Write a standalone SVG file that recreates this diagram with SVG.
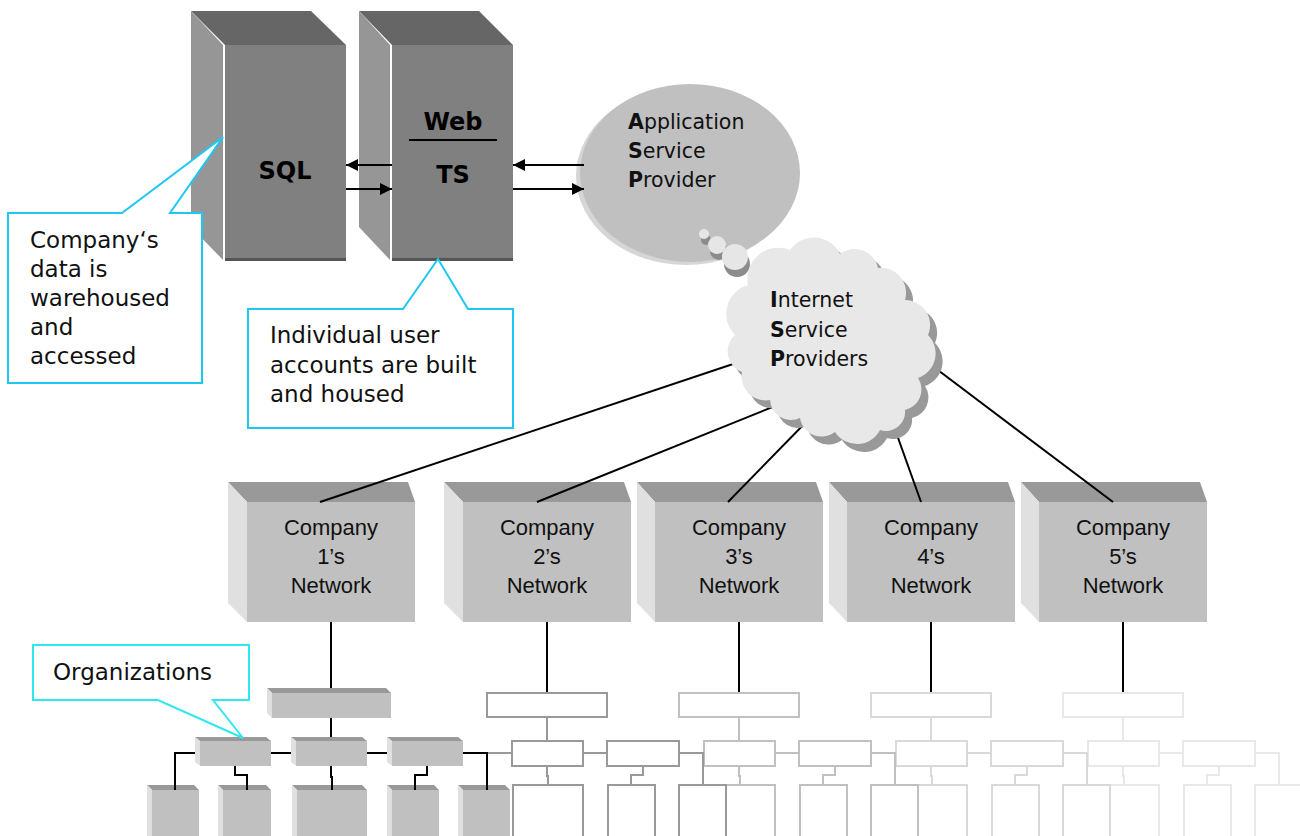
<svg xmlns="http://www.w3.org/2000/svg" width="1300" height="836" viewBox="0 0 1300 836">
<style>
.st{fill:#666}.ss{fill:#969696}.sf{fill:#808080}
.ct{fill:#999}.cs{fill:#e0e0e0}.cf{fill:#c0c0c0}
.callout{fill:#fff;stroke:#1cc8f2;stroke-width:2}
.org{fill:#fff;stroke:#2ee8f0;stroke-width:2}
.lbl{font-family:"DejaVu Sans",Verdana,sans-serif;font-size:23px;fill:#111}
.sp{font-family:"DejaVu Sans",Verdana,sans-serif;font-size:20.5px;fill:#111}
.srv{font-family:"DejaVu Sans",Verdana,sans-serif;font-size:24px;font-weight:bold;fill:#000;text-anchor:middle}
.co{font-family:"Liberation Sans",Arial,sans-serif;font-size:22px;fill:#111;text-anchor:middle}
.link{stroke:#000;stroke-width:2;fill:none}
.b{font-weight:bold}
.t2{stroke:#999}.t3{stroke:#c0c0c0}.t4{stroke:#d9d9d9}.t5{stroke:#e8e8e8}
.tb{fill:#fff;stroke-width:2}
.tl{fill:none;stroke-width:2}
</style>
<defs>
<marker id="ah" viewBox="0 0 10 10" refX="10" refY="5" markerWidth="14" markerHeight="12" markerUnits="userSpaceOnUse" orient="auto">
<path d="M0,0 L10,5 L0,10 Z" fill="#000"/>
</marker>
<g id="tree">
<rect class="tb" x="-60" y="693" width="120" height="24"/>
<path class="tl" d="M0,717 V741 M-60,753 H-35 M36,753 H60 M132,753 H156 V785 M0,766 V776 H1 V785 M96,766 V775 H84 V785"/>
<rect class="tb" x="-35" y="741" width="71" height="25"/>
<rect class="tb" x="60" y="741" width="72" height="25"/>
<rect class="tb" x="-34" y="785" width="70" height="70"/>
<rect class="tb" x="61" y="785" width="47" height="70"/>
<rect class="tb" x="132" y="785" width="47" height="70"/>
</g>
</defs>
<rect width="1300" height="836" fill="#fff"/>

<g id="sql-server">
<polygon class="st" points="191,11 311,11 346,45 225,45"/>
<polygon class="ss" points="191,11 223,45 223,260 191,227"/>
<rect class="sf" x="225" y="45" width="121" height="215"/>
<rect x="225" y="258" width="121" height="3" fill="#555"/>
<text class="srv" x="285" y="179">SQL</text>
</g>
<g id="web-ts-server">
<polygon class="st" points="359,11 479,11 513,45 392,45"/>
<polygon class="ss" points="359,11 390,45 390,260 359,227"/>
<rect class="sf" x="392" y="45" width="121" height="215"/>
<rect x="392" y="258" width="121" height="3" fill="#555"/>
<text class="srv" x="453" y="130">Web</text>
<line x1="409" y1="140" x2="497" y2="140" stroke="#000" stroke-width="2"/>
<text class="srv" x="453" y="183">TS</text>
</g>

<g id="asp">
<ellipse cx="686" cy="176" rx="110" ry="89" fill="#d6d6d6"/>
<ellipse cx="690" cy="173" rx="110" ry="89" fill="#c0c0c0"/>
<text class="sp" x="628" y="129"><tspan class="b">A</tspan>pplication</text>
<text class="sp" x="628" y="158"><tspan class="b">S</tspan>ervice</text>
<text class="sp" x="628" y="187"><tspan class="b">P</tspan>rovider</text>
</g>

<g id="company-1"><polygon class="ct" points="228,482 408,482 415,502 247,502"/><polygon class="cs" points="228,482 247,502 247,622 228,603"/><rect class="cf" x="247" y="502" width="168" height="120"/><text class="co" x="331" y="535">Company</text><text class="co" x="331" y="564">1’s</text><text class="co" x="331" y="593">Network</text></g>
<g id="company-2"><polygon class="ct" points="444,482 624,482 631,502 463,502"/><polygon class="cs" points="444,482 463,502 463,622 444,603"/><rect class="cf" x="463" y="502" width="168" height="120"/><text class="co" x="547" y="535">Company</text><text class="co" x="547" y="564">2’s</text><text class="co" x="547" y="593">Network</text></g>
<g id="company-3"><polygon class="ct" points="637,482 816,482 823,502 655,502"/><polygon class="cs" points="637,482 655,502 655,622 637,603"/><rect class="cf" x="655" y="502" width="168" height="120"/><text class="co" x="739" y="535">Company</text><text class="co" x="739" y="564">3’s</text><text class="co" x="739" y="593">Network</text></g>
<g id="company-4"><polygon class="ct" points="829,482 1008,482 1015,502 847,502"/><polygon class="cs" points="829,482 847,502 847,622 829,603"/><rect class="cf" x="847" y="502" width="168" height="120"/><text class="co" x="931" y="535">Company</text><text class="co" x="931" y="564">4’s</text><text class="co" x="931" y="593">Network</text></g>
<g id="company-5"><polygon class="ct" points="1021,482 1200,482 1207,502 1039,502"/><polygon class="cs" points="1021,482 1039,502 1039,622 1021,603"/><rect class="cf" x="1039" y="502" width="168" height="120"/><text class="co" x="1123" y="535">Company</text><text class="co" x="1123" y="564">5’s</text><text class="co" x="1123" y="593">Network</text></g>

<g id="connectors">
<line class="link" x1="392" y1="165" x2="346" y2="165" marker-end="url(#ah)"/>
<line class="link" x1="346" y1="189" x2="392" y2="189" marker-end="url(#ah)"/>
<line class="link" x1="584" y1="165" x2="513" y2="165" marker-end="url(#ah)"/>
<line class="link" x1="513" y1="189" x2="584" y2="189" marker-end="url(#ah)"/>
<line class="link" x1="320" y1="502" x2="760" y2="355"/>
<line class="link" x1="537" y1="502" x2="790" y2="400"/>
<line class="link" x1="728" y1="502" x2="812" y2="416"/>
<line class="link" x1="921" y1="502" x2="892" y2="421"/>
<line class="link" x1="1113" y1="502" x2="910" y2="349"/>
<line class="link" x1="331" y1="622" x2="331" y2="688"/>
<line class="link" x1="547" y1="622" x2="547" y2="693"/>
<line class="link" x1="739" y1="622" x2="739" y2="693"/>
<line class="link" x1="931" y1="622" x2="931" y2="693"/>
<line class="link" x1="1123" y1="622" x2="1123" y2="693"/>
</g>

<g id="thought-bubbles">
<circle cx="706" cy="240" r="5" fill="#8c8c8c"/>
<circle cx="719" cy="251" r="9" fill="#8c8c8c"/>
<circle cx="737" cy="264" r="13" fill="#8c8c8c"/>
<circle cx="704" cy="234" r="5" fill="#e6e6e6"/>
<circle cx="717" cy="245" r="9" fill="#e6e6e6"/>
<circle cx="735" cy="257" r="13" fill="#e6e6e6"/>
</g>

<g id="isp">
<path transform="translate(7,8)" fill="#999" d="M748,285 A31,31 0 0 1 790,250 A29,29 0 0 1 840,254 A24,24 0 0 1 878,268 A25,25 0 0 1 905,300 A25,25 0 0 1 928,335 A26,26 0 0 1 918,378 A21,21 0 0 1 905,410 A19,19 0 0 1 880,430 A26,26 0 0 1 835,432 A22,22 0 0 1 800,418 A21,21 0 0 1 770,400 A24,24 0 0 1 742,372 A22,22 0 0 1 735,335 A30,30 0 0 1 748,285 Z"/>
<path fill="#e8e8e8" d="M748,285 A31,31 0 0 1 790,250 A29,29 0 0 1 840,254 A24,24 0 0 1 878,268 A25,25 0 0 1 905,300 A25,25 0 0 1 928,335 A26,26 0 0 1 918,378 A21,21 0 0 1 905,410 A19,19 0 0 1 880,430 A26,26 0 0 1 835,432 A22,22 0 0 1 800,418 A21,21 0 0 1 770,400 A24,24 0 0 1 742,372 A22,22 0 0 1 735,335 A30,30 0 0 1 748,285 Z"/>
<text class="sp" x="770" y="307"><tspan class="b">I</tspan>nternet</text>
<text class="sp" x="770" y="337"><tspan class="b">S</tspan>ervice</text>
<text class="sp" x="770" y="366"><tspan class="b">P</tspan>roviders</text>
</g>

<g id="org-tree-5" class="t5"><use href="#tree" x="1123"/></g>
<g id="org-tree-4" class="t4"><use href="#tree" x="931"/></g>
<g id="org-tree-3" class="t3"><use href="#tree" x="739"/></g>
<g id="org-tree-2" class="t2"><use href="#tree" x="547"/></g>

<g id="org-tree-1">
<path class="link" d="M331,718 V737 M271,753 H291 M367,753 H387 M195,753 H175 V785 M463,753 H487 V785 M235,766 V775 H247 V785 M331,766 V777 H332 V785 M427,766 V775 H415 V785"/>
<g>
<polygon class="ct" points="267,688 386,688 391,693 272,693"/><polygon class="cs" points="267,688 272,693 272,718 267,713"/><rect class="cf" x="272" y="693" width="119" height="25"/>
<polygon class="ct" points="195,737 266,737 271,741 200,741"/><polygon class="cs" points="195,737 200,741 200,766 195,762"/><rect class="cf" x="200" y="741" width="71" height="25"/>
<polygon class="ct" points="291,737 362,737 367,741 296,741"/><polygon class="cs" points="291,737 296,741 296,766 291,762"/><rect class="cf" x="296" y="741" width="71" height="25"/>
<polygon class="ct" points="387,737 458,737 463,741 392,741"/><polygon class="cs" points="387,737 392,741 392,766 387,762"/><rect class="cf" x="392" y="741" width="71" height="25"/>
<polygon class="ct" points="147,785 194,785 199,790 152,790"/><polygon class="cs" points="147,785 152,790 152,836 147,836"/><rect class="cf" x="152" y="790" width="47" height="46"/>
<polygon class="ct" points="218,785 266,785 271,790 223,790"/><polygon class="cs" points="218,785 223,790 223,836 218,836"/><rect class="cf" x="223" y="790" width="48" height="46"/>
<polygon class="ct" points="292,785 362,785 367,790 297,790"/><polygon class="cs" points="292,785 297,790 297,836 292,836"/><rect class="cf" x="297" y="790" width="70" height="46"/>
<polygon class="ct" points="387,785 434,785 439,790 392,790"/><polygon class="cs" points="387,785 392,790 392,836 387,836"/><rect class="cf" x="392" y="790" width="47" height="46"/>
<polygon class="ct" points="458,785 505,785 510,790 463,790"/><polygon class="cs" points="458,785 463,790 463,836 458,836"/><rect class="cf" x="463" y="790" width="47" height="46"/>
</g>
<path class="link" d="M175,785 V790 M487,785 V790 M247,785 V790 M332,785 V790 M415,785 V790"/>
</g>

<g id="callout-sql">
<path class="callout" d="M8,213 L122,213 L223,137 L170,213 L202,213 L202,383 L8,383 Z"/>
<text class="lbl" x="30" y="248">Company‘s</text>
<text class="lbl" x="30" y="277">data is</text>
<text class="lbl" x="30" y="306">warehoused</text>
<text class="lbl" x="30" y="335">and</text>
<text class="lbl" x="30" y="364">accessed</text>
</g>
<g id="callout-ts">
<path class="callout" d="M248,309 L403,309 L438,259 L468,309 L513,309 L513,428 L248,428 Z"/>
<text class="lbl" x="270" y="343">Individual user</text>
<text class="lbl" x="270" y="373">accounts are built</text>
<text class="lbl" x="270" y="402">and housed</text>
</g>
<g id="callout-org">
<path class="org" d="M33,645 L249,645 L249,700 L213,700 L243,738 L158,700 L33,700 Z"/>
<text class="lbl" x="53" y="680">Organizations</text>
</g>
</svg>
